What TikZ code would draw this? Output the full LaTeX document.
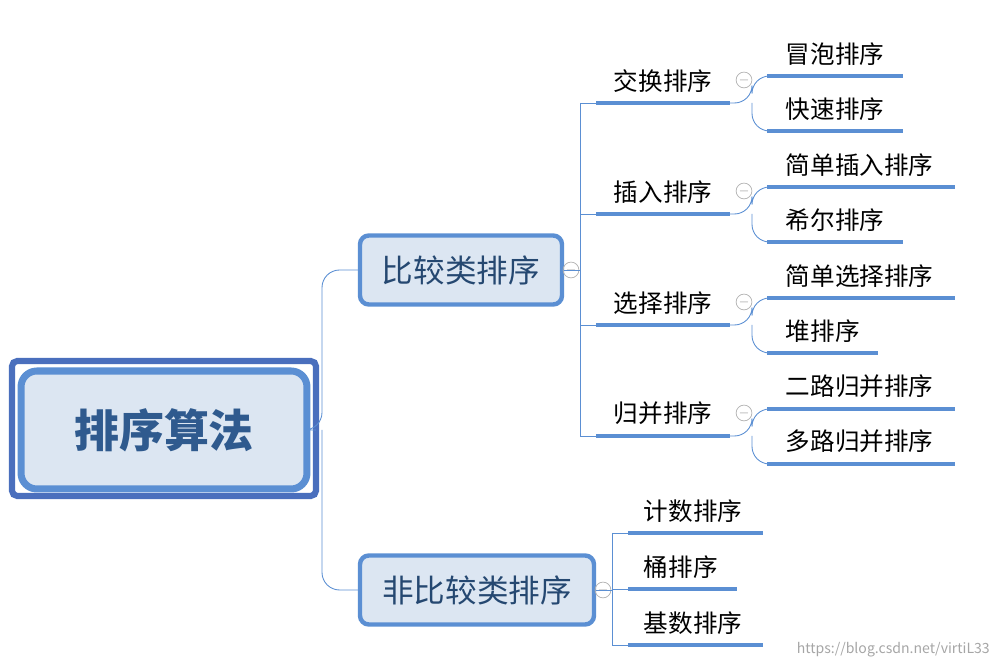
\documentclass[tikz,border=0pt]{standalone}
\usepackage{fontspec}
\setmainfont{Noto Sans CJK SC}
\definecolor{boxblue}{HTML}{5B8FD3}
\definecolor{framblue}{HTML}{4A6FBD}
\definecolor{boxfill}{HTML}{DCE6F2}
\definecolor{textblue}{HTML}{2F5A8E}
\tikzset{
  topic/.style={draw=boxblue,fill=boxfill,line width=2.5pt,rounded corners=5pt,
    inner sep=0pt,font=\fontsize{18}{20}\selectfont,text=textblue!80!black},
  sub/.style={anchor=south,inner sep=2pt,font=\fontsize{14}{16}\selectfont},
  uline/.style={boxblue,line width=2.4pt},
  link/.style={boxblue,line width=0.5pt,rounded corners=10pt},
  fold/.style={circle,draw=black!30,inner sep=0pt,minimum size=9pt,
    font=\fontsize{7}{7}\selectfont,text=black!40},
}
\begin{document}
\begin{tikzpicture}[x=0.02cm,y=-0.02cm]
  \useasboundingbox (0,0) rectangle (1002,668);

  %% root
  \draw[framblue,line width=3.5pt,rounded corners=3pt] (12,361) rectangle (316,496);
  \node[draw=boxblue,fill=boxfill,line width=4pt,rounded corners=9pt,inner sep=0pt,
    minimum width=5.72cm,minimum height=2.36cm] (root) at (164,430)
    {\fontsize{25.6}{28}\selectfont\bfseries\color{textblue}排序算法};

  %% level 1
  \node[topic,minimum width=4.04cm,minimum height=1.38cm] (cmp) at (461,270) {比较类排序};
  \node[topic,minimum width=4.68cm,minimum height=1.38cm] (ncmp) at (477,590) {非比较类排序};
  \draw[link] (316,430) -- (322,430) |- (cmp.west);
  \draw[link] (322,430) |- (ncmp.west);
  \node[fold] (f1) at (571,270) {$-$};
  \node[fold] (f2) at (603,590) {$-$};

  %% comparison sorts
  \draw[link,rounded corners=0pt] (cmp.east) -- (580,270);
  \draw[link,rounded corners=0pt] (580,103) -- (580,436);
  \foreach \y/\t/\a/\b/\la/\lb/\ea/\eb in {
      103/交换排序/76/131/冒泡排序/快速排序/903/903,
      214/插入排序/187/242/简单插入排序/希尔排序/955/903,
      325/选择排序/298/353/简单选择排序/堆排序/955/878,
      436/归并排序/409/464/二路归并排序/多路归并排序/955/955}{
    \draw[link,rounded corners=0pt] (580,\y) -- (596,\y);
    \draw[uline] (596,\y) -- (730,\y);
    \node[sub] at (663,\y-7) {\t};
    \node[fold] at (744,\y-23) {$-$};
    \draw[link] (730,\y) -- (752,\y) |- (767,\a);
    \draw[link] (752,\y) |- (767,\b);
    \draw[uline] (767,\a) -- (\ea,\a);
    \draw[uline] (767,\b) -- (\eb,\b);
    \node[sub,anchor=south west] at (782,\a-7) {\la};
    \node[sub,anchor=south west] at (782,\b-7) {\lb};
  }

  %% non-comparison sorts
  \draw[link,rounded corners=0pt] (ncmp.east) -- (612,590);
  \draw[link,rounded corners=0pt] (612,533) -- (612,645);
  \foreach \y/\t/\e in {533/计数排序/763, 589/桶排序/737, 645/基数排序/763}{
    \draw[link,rounded corners=0pt] (612,\y) -- (628,\y);
    \draw[uline] (628,\y) -- (\e,\y);
    \node[sub,anchor=south west] at (640,\y-7) {\t};
  }

  \node[anchor=east,text=black!35,font=\fontsize{8}{9}\selectfont] (mark) at (996,650)
    {https://blog.csdn.net/virtiL33};
\end{tikzpicture}
\end{document}
